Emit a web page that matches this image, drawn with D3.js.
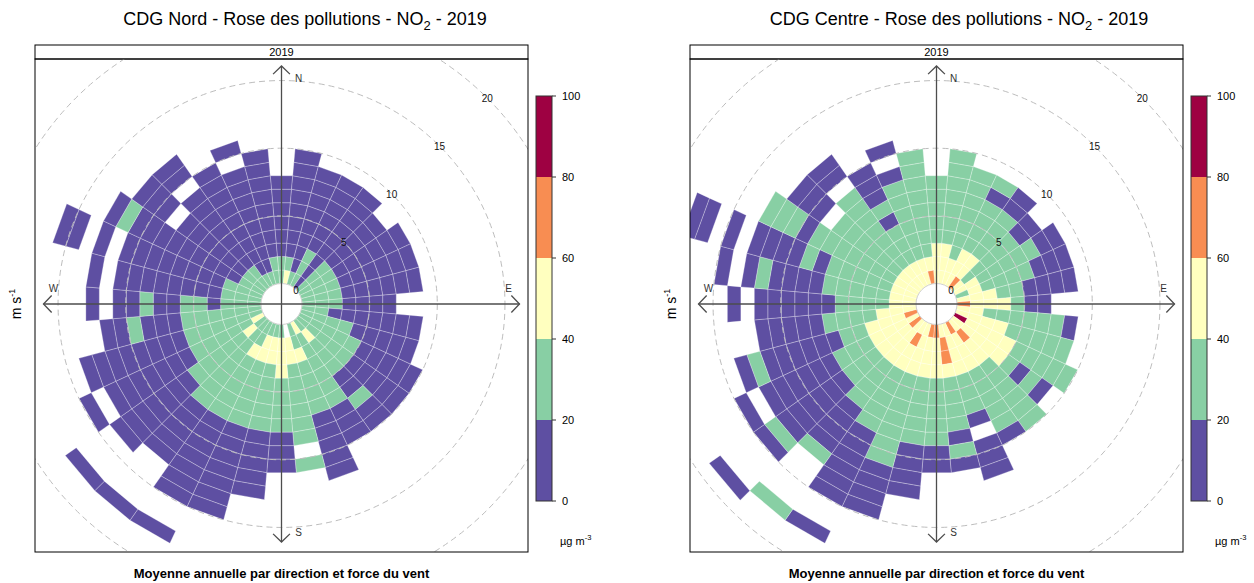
<!DOCTYPE html>
<html>
<head>
<meta charset="utf-8">
<script src="https://cdn.jsdelivr.net/npm/d3@7"></script>
<style>
  body { margin: 0; background: #fff; }
  text { font-family: "Liberation Sans", Arial, sans-serif; }
</style>
</head>
<body>
<svg id="chart" width="1254" height="583"></svg>
<script>
// Wind sectors (degrees, centre of each 10° sector) and 1 m/s speed bins
const directions = d3.range(0, 360, 10);
const speedStep = 1;
const ringTicks = [0, 5, 10, 15, 20];
const legendBreaks = [0, 20, 40, 60, 80, 100];
// Representative mean NO2 (µg/m3) for the class codes used below: 1..5
const classMeans = [10, 30, 50, 70, 90];
const palette = ["#5E4FA2", "#88CFA4", "#FFFFBF", "#F88D52", "#9E0142"];

// One string per sector (0°, 10°, ... 350°); one character per speed bin
// starting at 0–1 m/s. "." = no data, digits = concentration class.
const nordCells = [
  "22111111", "3211111111", "211111111", "222111111", "111111111", "22211111",
  "222111111", "222111111", "222111111", "2221111", "221111111", "222211111",
  "2222211111", "2222211111", "2322211211", "3222222111", "223222211111", ".33222222.2",
  "23332222111", "2332222211111", "233222221111111", "223222221111111..1", "2222222211111....1", "23222221111111...1",
  "3222221111111.1", "22222211111111", "222222111211", "22212211211.1", "22211111111.1", "22211111111.1.11",
  "2211111111121", "22111111.111", "221111111.11", "2111111111", "211111111.1", "2211111111"
];
const centreCells = [
  "33322222", "3332222222", "332222222", "333222212", "433222211", "32222211",
  "332222211", "232222111", "333221111", "4333211", "332222221", "333322222",
  "5333322222", "333332121", "3433222222", "4333222221", "33332221.111", "34432222121",
  "43332222211", "4333222221111", "333322222221111", "343322222111111..1", "3333222211112....2", "433322211111121...1",
  "3333222111111.1", "43332211111121", "333222211111", "332222111111.1", "3322222111121.1", "3322222121111.1.11",
  "3322222221222", "33222222.111", "332222222.11", "3322212111", "332222221.1", "4322222222"
];

const svg = d3.select("#chart");
const color = d3.scaleThreshold().domain(legendBreaks.slice(1, -1)).range(palette);

function decode(rows) {
  const cells = [];
  rows.forEach((row, i) => {
    for (let k = 0; k < row.length; k++) {
      const ch = row[k];
      if (ch === ".") continue;
      cells.push({ dir: directions[i], ws: k * speedStep, value: classMeans[+ch - 1] });
    }
  });
  return cells;
}

function drawPanel(cfg) {
  const g = svg.append("g");
  const fx = cfg.frameX, fw = 493, stripTop = 45, stripH = 14;
  const plotTop = stripTop + stripH, plotH = 493;
  const cx = fx + fw / 2, cy = plotTop + plotH / 2 - 1.5;

  // title
  const t = g.append("text").attr("x", cfg.titleX).attr("y", 25)
    .attr("text-anchor", "middle").attr("font-size", 18).attr("fill", "#000");
  t.append("tspan").text(cfg.site + " - Rose des pollutions - NO");
  t.append("tspan").attr("font-size", 13).attr("dy", 5).text("2");
  t.append("tspan").attr("dy", -5).text(" - 2019");

  // strip
  g.append("rect").attr("x", fx).attr("y", stripTop).attr("width", fw).attr("height", stripH)
    .attr("fill", "#fff").attr("stroke", "#000").attr("stroke-width", 1);
  g.append("text").attr("x", cx).attr("y", stripTop + 11).attr("text-anchor", "middle")
    .attr("font-size", 11).text("2019");

  const clipId = "clip-" + cfg.id;
  g.append("clipPath").attr("id", clipId).append("rect")
    .attr("x", fx).attr("y", plotTop).attr("width", fw).attr("height", plotH);
  const plot = g.append("g").attr("clip-path", `url(#${clipId})`);

  const r = d3.scaleLinear().domain([0, 20]).range([20.5, 20.5 + 20 * 13.53]);
  const pt = (deg, rad) => {
    const a = deg * Math.PI / 180;
    return [cx + rad * Math.sin(a), cy - rad * Math.cos(a)];
  };

  // cells
  const cells = decode(cfg.rows);
  plot.selectAll("path.cell").data(cells).join("path")
    .attr("class", "cell")
    .attr("d", d => {
      const r0 = r(d.ws), r1 = r(d.ws + speedStep);
      const p = [pt(d.dir - 5, r0), pt(d.dir - 5, r1), pt(d.dir + 5, r1), pt(d.dir + 5, r0)];
      return "M" + p.map(q => q.join(",")).join("L") + "Z";
    })
    .attr("fill", d => color(d.value))
    .attr("stroke", "rgba(255,255,255,0.55)").attr("stroke-width", 0.5);

  // hole edge
  plot.append("circle").attr("cx", cx).attr("cy", cy).attr("r", r(0))
    .attr("fill", "#fff").attr("stroke", "#d0d0d0").attr("stroke-width", 1);

  // dashed speed rings
  plot.selectAll("circle.ring").data(ringTicks.slice(1)).join("circle")
    .attr("class", "ring").attr("cx", cx).attr("cy", cy).attr("r", d => r(d))
    .attr("fill", "none").attr("stroke", "#bdbdbd").attr("stroke-width", 1)
    .attr("stroke-dasharray", "6,4");

  // compass axes with open arrowheads
  const L = 238;
  const axes = [[0, "N"], [90, "E"], [180, "S"], [270, "W"]];
  axes.forEach(([deg]) => {
    const [x1, y1] = pt(deg, L);
    plot.append("line").attr("x1", cx).attr("y1", cy).attr("x2", x1).attr("y2", y1)
      .attr("stroke", "#4d4d4d").attr("stroke-width", 1.3);
    const a1 = pt(deg - 2.1, L - 8), a2 = pt(deg + 2.1, L - 8);
    plot.append("path").attr("d", `M${a1}L${x1},${y1}L${a2}`)
      .attr("fill", "none").attr("stroke", "#4d4d4d").attr("stroke-width", 1.3);
  });
  const labelPos = { N: [17, -226], E: [227, -16], S: [17, 228], W: [-228, -16] };
  axes.forEach(([, lab]) => {
    plot.append("text").attr("x", cx + labelPos[lab][0]).attr("y", cy + labelPos[lab][1] + 4)
      .attr("text-anchor", "middle").attr("font-size", 10).attr("fill", "#333").text(lab);
  });

  // ring labels at 45°
  plot.selectAll("text.rl").data(ringTicks).join("text")
    .attr("class", "rl")
    .attr("x", d => pt(45, r(d))[0]).attr("y", d => pt(45, r(d))[1] + 4)
    .attr("text-anchor", "middle").attr("font-size", 10).attr("fill", "#111")
    .text(d => d);

  // frame
  g.append("rect").attr("x", fx).attr("y", plotTop).attr("width", fw).attr("height", plotH)
    .attr("fill", "none").attr("stroke", "#000").attr("stroke-width", 1);

  // y label
  const yl = g.append("text").attr("transform", `translate(${fx - 14},${cy}) rotate(-90)`)
    .attr("text-anchor", "middle").attr("font-size", 14);
  yl.append("tspan").text("m s");
  yl.append("tspan").attr("font-size", 9).attr("dy", -6).text("-1");

  // x label
  g.append("text").attr("x", cx).attr("y", 578).attr("text-anchor", "middle")
    .attr("font-size", 13).attr("font-weight", "bold")
    .text("Moyenne annuelle par direction et force du vent");

  // colour key
  const kx = fx + fw + 8, kw = 16;
  const ky = d3.scaleLinear().domain([0, 100]).range([501, 96]);
  const key = g.append("g");
  key.selectAll("rect").data(d3.range(palette.length)).join("rect")
    .attr("x", kx).attr("width", kw)
    .attr("y", i => ky(legendBreaks[i + 1])).attr("height", i => ky(legendBreaks[i]) - ky(legendBreaks[i + 1]))
    .attr("fill", i => palette[i]);
  key.append("rect").attr("x", kx).attr("y", ky(100)).attr("width", kw).attr("height", ky(0) - ky(100))
    .attr("fill", "none").attr("stroke", "#333").attr("stroke-width", 1);
  key.selectAll("line").data(legendBreaks).join("line")
    .attr("x1", kx + kw).attr("x2", kx + kw + 4).attr("y1", d => ky(d)).attr("y2", d => ky(d))
    .attr("stroke", "#333");
  key.selectAll("text").data(legendBreaks).join("text")
    .attr("x", kx + kw + 10).attr("y", d => ky(d) + 4).attr("font-size", 11).text(d => d);
  const u = key.append("text").attr("x", kx + 24).attr("y", 545).attr("font-size", 11);
  u.append("tspan").text("µg m");
  u.append("tspan").attr("font-size", 7.5).attr("dy", -5).text("-3");
}

drawPanel({ id: "nord", site: "CDG Nord", frameX: 35, titleX: 305, rows: nordCells });
drawPanel({ id: "centre", site: "CDG Centre", frameX: 690, titleX: 959, rows: centreCells });
</script>
</body>
</html>
